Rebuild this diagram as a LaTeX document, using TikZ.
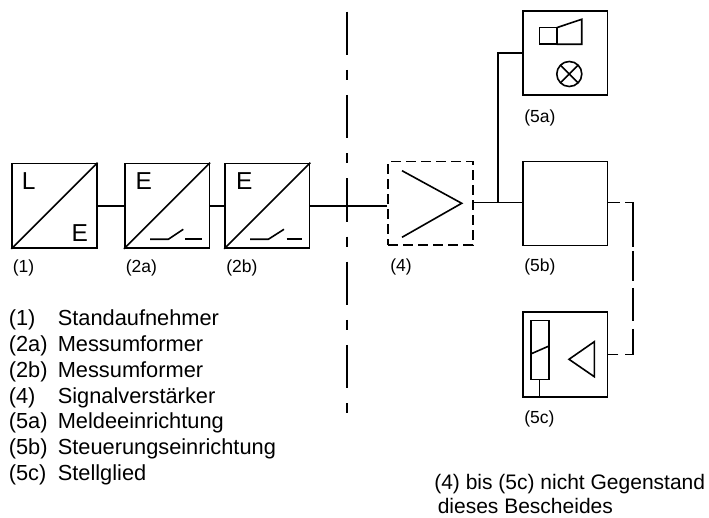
\documentclass[tikz,border=0pt]{standalone}
\usepackage{fontspec}
\setmainfont{Liberation Sans}
\begin{document}
\begin{tikzpicture}[x=1pt,y=-1pt,line width=1.6pt,
  blk/.style={draw,rectangle,inner sep=0pt,minimum width=84.6pt,minimum height=84.6pt},
  dblk/.style={blk,dash pattern=on 10pt off 5pt},
  lbl/.style={anchor=base west,inner sep=0pt,font=\fontsize{17.5}{20}\selectfont},
  big/.style={anchor=base west,inner sep=0pt,font=\fontsize{24.5}{30}\selectfont},
  leg/.style={anchor=base west,inner sep=0pt,font=\fontsize{21.8}{25}\selectfont},
  sym/.style={line width=1.6pt,line join=miter}]
\useasboundingbox (0,0) rectangle (709,518);

% boxes
\node[blk] (b1) at (54.4,205.8) {};
\node[blk] (b2a) at (167,205.8) {};
\node[blk] (b2b) at (267.3,205.8) {};
\node[dblk,minimum height=83.3pt] (b4) at (430.5,203.3) {};
\node[blk,minimum height=84pt] (b5a) at (565,53) {};
\node[blk,minimum height=84pt] (b5b) at (565,203.7) {};
\node[blk,minimum height=84.4pt] (b5c) at (565,354.5) {};

% box 1 contents
\draw[sym] (b1.south west) -- (b1.north east);
\node[big] (tL) at (21,190) {L};
\node[big] (tE1) at (70.9,241.2) {E};
% box 2a contents
\draw[sym] (b2a.south west) -- (b2a.north east);
\node[big] (tE2) at (134.8,190) {E};
\draw[sym] (150,239.3) -- (168.3,239.3) -- (183.3,229.3);
\draw[sym] (185,239.3) -- (201.7,239.3);
% box 2b contents
\draw[sym] (b2b.south west) -- (b2b.north east);
\node[big] (tE3) at (235.4,190) {E};
\draw[sym] (250,239.3) -- (268.3,239.3) -- (284,229.3);
\draw[sym] (286.7,239.3) -- (301.7,239.3);
% box 4 amplifier
\draw[sym] (402,170.7) -- (461.7,203.3) -- (402,237.3);
% box 5a: horn and lamp
\draw[sym] (539.3,27.7) rectangle (556.7,44.3);
\draw[sym] (556.7,27.7) -- (581.7,19.3) -- (581.7,44.3) -- (556.7,44.3);
\draw[sym] (569.3,74) circle[radius=12.5pt];
\draw[sym] (560.5,65.2) -- (578.1,82.8);
\draw[sym] (560.5,82.8) -- (578.1,65.2);
% box 5c: actuator
\draw[sym] (530.7,320.7) rectangle (549,379.3);
\draw[sym] (530.7,354) -- (549,346);
\draw[sym] (539.3,379.3) -- (539.3,396.7);
\draw[sym] (569,359.3) -- (594.3,341.7) -- (594.3,376.7) -- cycle;

% connectors
\draw (b1.east) -- (b2a.west);
\draw (b2a.east) -- (b2b.west);
\draw (b2b.east) -- (b2b.east -| b4.west);
\coordinate (j) at (497.7,202.5);
\draw (b4.east |- j) -- (j) -- (b5b.west |- j);
\draw (j) |- (b5a.west);
\coordinate (dc) at (632.7,278);
\draw[dash pattern=on 12pt off 5pt on 52pt off 4pt on 30pt off 7pt on 33pt off 8pt on 33pt off 7pt on 12pt off 0pt]
  (b5b.east |- j) -| (dc) |- (b5c.east);

% dash-dot separation line
\draw[dash pattern=on 43.3pt off 15pt on 10pt off 15pt] (346.7,11.7) -- (346.7,415);

% labels under boxes
\node[lbl] (n1) at (12,272.8) {(1)};
\node[lbl] (n2a) at (125,272.8) {(2a)};
\node[lbl] (n2b) at (225.5,272.8) {(2b)};
\node[lbl] (n4) at (389.5,271.2) {(4)};
\node[lbl] (n5b) at (523.5,271.2) {(5b)};
\node[lbl] (n5a) at (523.5,122.8) {(5a)};
\node[lbl] (n5c) at (523.5,423.8) {(5c)};

% legend
\node[leg] (g1a) at (8,326) {(1)};      \node[leg] (g1b) at (57,326) {Standaufnehmer};
\node[leg] (g2a) at (8,351.7) {(2a)};   \node[leg] (g2b) at (57,351.7) {Messumformer};
\node[leg] (g3a) at (8,377.3) {(2b)};   \node[leg] (g3b) at (57,377.3) {Messumformer};
\node[leg] (g4a) at (8,403) {(4)};      \node[leg] (g4b) at (57,403) {Signalverstärker};
\node[leg] (g5a) at (8,428.7) {(5a)};   \node[leg] (g5b) at (57,428.7) {Meldeeinrichtung};
\node[leg] (g6a) at (8,454.3) {(5b)};   \node[leg] (g6b) at (57,454.3) {Steuerungseinrichtung};
\node[leg] (g7a) at (8,480) {(5c)};     \node[leg] (g7b) at (57,480) {Stellglied};

% note
\node[leg,font=\fontsize{21}{25}\selectfont] (m1) at (433.5,489.5) {(4) bis (5c) nicht Gegenstand};
\node[leg,font=\fontsize{21}{25}\selectfont] (m2) at (437,513.3) {dieses Bescheides};
\end{tikzpicture}
\end{document}
